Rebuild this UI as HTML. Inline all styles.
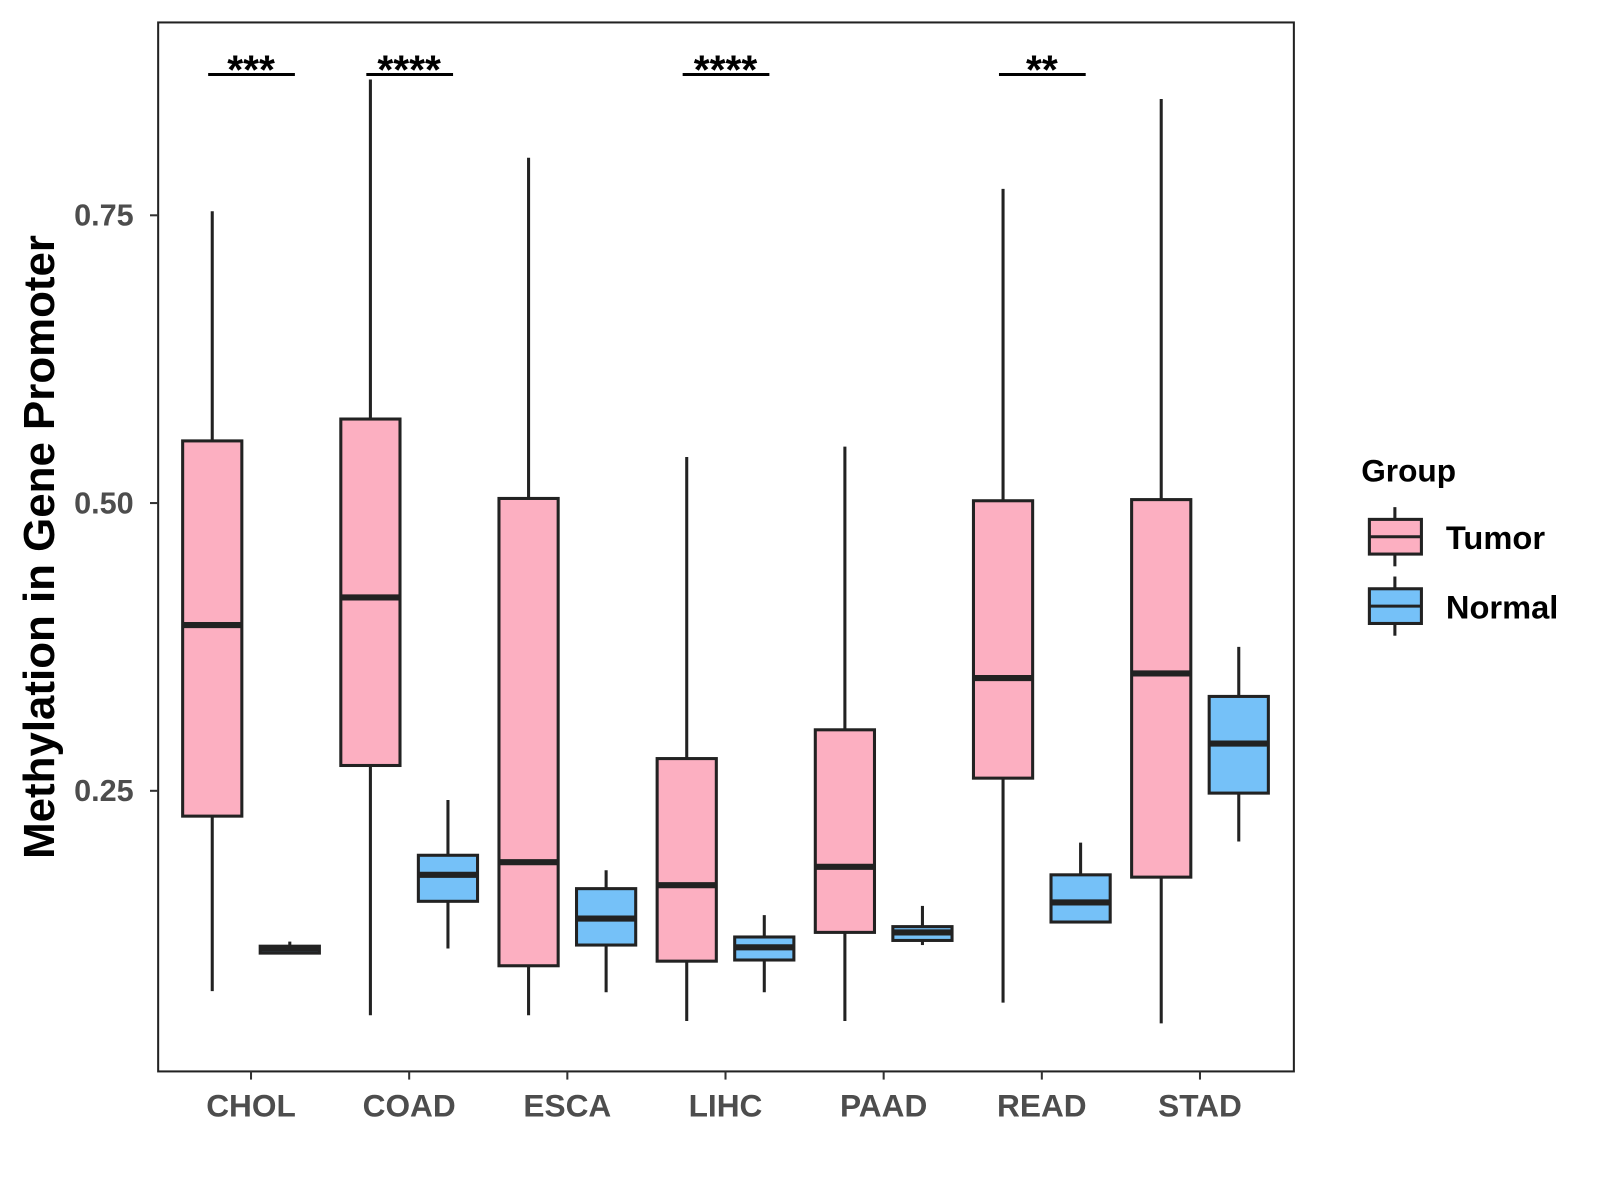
<!DOCTYPE html>
<html><head><meta charset="utf-8"><style>
html,body{margin:0;padding:0;background:#fff;}
svg{display:block;font-family:"Liberation Sans",Arial,sans-serif;}
</style></head><body>
<svg id="chart" width="1600" height="1200" viewBox="0 0 1600 1200">
<g transform="scale(1.0204)">
<rect x="155" y="22" width="1113" height="1028" fill="#fff" stroke="#222" stroke-width="2"/>
<g id="marks"></g>
<g id="axes"></g>
<text transform="translate(53,536) rotate(-90)" text-anchor="middle" font-size="43" font-weight="bold" fill="#000">Methylation in Gene Promoter</text>
<g>
<text x="1334" y="472" font-size="31" font-weight="bold" fill="#000">Group</text>
<g>
<line x1="1367" y1="497" x2="1367" y2="555" stroke="#222" stroke-width="3"/>
<rect x="1342" y="509" width="51" height="34" fill="#fcafc1" stroke="#222" stroke-width="3"/>
<line x1="1342" y1="526" x2="1393" y2="526" stroke="#222" stroke-width="3"/>
<text x="1417" y="538" font-size="32" font-weight="bold" fill="#000">Tumor</text>
</g>
<g>
<line x1="1367" y1="565" x2="1367" y2="623" stroke="#222" stroke-width="3"/>
<rect x="1342" y="577" width="51" height="34" fill="#75c1f8" stroke="#222" stroke-width="3"/>
<line x1="1342" y1="594" x2="1393" y2="594" stroke="#222" stroke-width="3"/>
<text x="1417" y="606" font-size="32" font-weight="bold" fill="#000">Normal</text>
</g>
</g>
</g>
</svg>
<script>
const categories = ["CHOL","COAD","ESCA","LIHC","PAAD","READ","STAD"];
// [low, q1, median, q3, high]
const tumorStats = [
 [0.076,0.228,0.394,0.554,0.7535],
 [0.055,0.272,0.418,0.573,0.868],
 [0.055,0.098,0.188,0.504,0.800],
 [0.050,0.102,0.168,0.278,0.540],
 [0.050,0.127,0.184,0.303,0.549],
 [0.066,0.261,0.348,0.502,0.773],
 [0.048,0.175,0.352,0.503,0.851]
];
const normalStats = [
 [0.109,0.109,0.113,0.115,0.119],
 [0.113,0.154,0.177,0.194,0.242],
 [0.075,0.116,0.139,0.165,0.181],
 [0.075,0.103,0.114,0.123,0.142],
 [0.116,0.120,0.127,0.132,0.150],
 [0.136,0.136,0.153,0.177,0.205],
 [0.206,0.248,0.291,0.332,0.375]
];
const signifLabels = ["***","****","","****","","**",""];
const yTicks = [0.25,0.50,0.75];
const yTickLabels = ["0.25","0.50","0.75"];

const NS="http://www.w3.org/2000/svg";
function y(v){return 493-(v-0.5)*1128;}
function x(i){return 246+i*155;}
const marks=document.getElementById('marks');
const axes=document.getElementById('axes');
function mk(tag,attrs,parent){const e=document.createElementNS(NS,tag);for(const k in attrs)e.setAttribute(k,attrs[k]);parent.appendChild(e);return e;}
function drawBox(s,cx,fill,name,parent){
  const g=mk('g',{},parent);
  
  
  const w=58;
  mk('line',{x1:cx,x2:cx,y1:y(s[4]),y2:y(s[0]),stroke:'#222','stroke-width':3},g);
  mk('rect',{x:cx-w/2,y:y(s[3]),width:w,height:Math.max(y(s[1])-y(s[3]),1),fill:fill,stroke:'#222','stroke-width':3},g);
  mk('line',{x1:cx-w/2,x2:cx+w/2,y1:y(s[2]),y2:y(s[2]),stroke:'#222','stroke-width':6},g);
}
categories.forEach((c,i)=>{
  drawBox(tumorStats[i],x(i)-38,'#fcafc1','box-tumor-'+c.toLowerCase(),marks);
  drawBox(normalStats[i],x(i)+38,'#75c1f8','box-normal-'+c.toLowerCase(),marks);
  if(signifLabels[i]){
    const g=mk('g',{},marks);
    
    
    mk('line',{x1:x(i)-42,x2:x(i)+43,y1:73,y2:73,stroke:'#000','stroke-width':3},g);
    const t=mk('text',{x:x(i),y:82,'text-anchor':'middle','font-size':40,'font-weight':'bold',fill:'#000'},g);
    t.textContent=signifLabels[i];
  }
  const tk=mk('line',{x1:x(i),x2:x(i),y1:1050,y2:1058,stroke:'#333','stroke-width':2},axes);
  
  
  const lb=mk('text',{x:x(i),y:1094,'text-anchor':'middle','font-size':31,'font-weight':'bold',fill:'#4d4d4d'},axes);
  
  
  lb.textContent=c;
});
yTicks.forEach((v,i)=>{
  const tk=mk('line',{x1:147,x2:155,y1:y(v),y2:y(v),stroke:'#333','stroke-width':2},axes);
  
  
  const lb=mk('text',{x:131,y:y(v)+10,'text-anchor':'end','font-size':30,'font-weight':'bold',fill:'#4d4d4d'},axes);
  
  
  lb.textContent=yTickLabels[i];
});
</script>
</body></html>
